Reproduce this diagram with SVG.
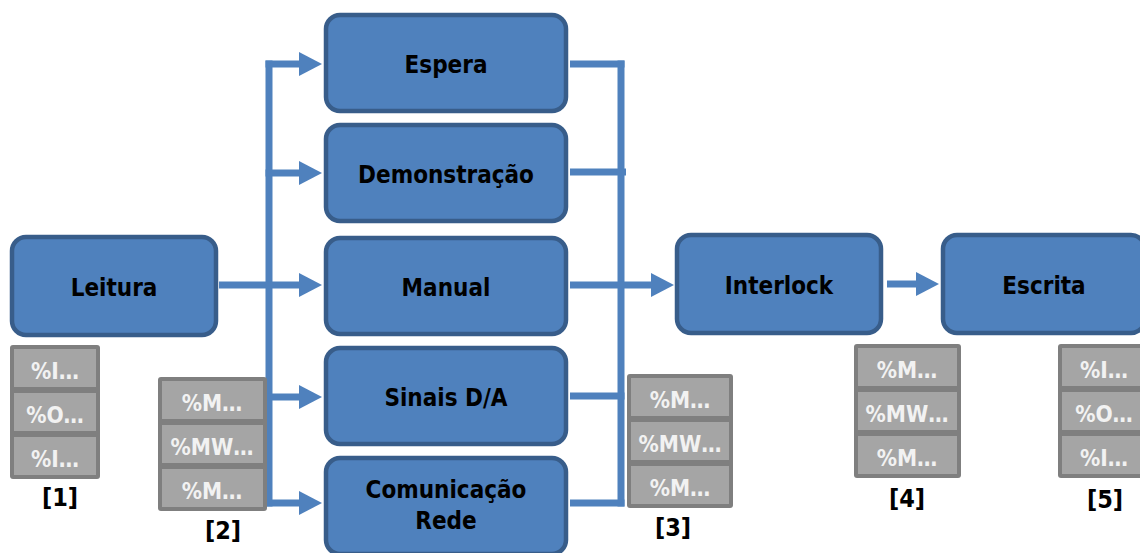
<svg xmlns="http://www.w3.org/2000/svg" width="1140" height="553" viewBox="0 0 1140 553">
  <style>
    .box { fill: #4f81bd; stroke: #385d8a; stroke-width: 4.5; }
    .lbl { font-family: "DejaVu Sans Condensed", "DejaVu Sans", sans-serif; font-stretch: condensed; font-weight: bold; font-size: 24px; fill: #000; text-anchor: middle; }
    .wire { fill: none; stroke: #4f81bd; stroke-width: 7; }
    .stack { fill: #7f7f7f; }
    .cell { fill: #a5a5a5; }
    .ctext { font-family: "DejaVu Sans Condensed", "DejaVu Sans", sans-serif; font-stretch: condensed; font-weight: bold; font-size: 22.5px; fill: #f2f2f2; text-anchor: middle; }
    .tag { font-family: "DejaVu Sans Condensed", "DejaVu Sans", sans-serif; font-stretch: condensed; font-weight: bold; font-size: 25px; fill: #000; text-anchor: middle; }
  </style>
  <defs>
    <marker id="head" markerUnits="userSpaceOnUse" viewBox="0 0 23 24" markerWidth="23" markerHeight="24" refX="1" refY="12" orient="auto">
      <path d="M0,0 L23,12 L0,24 z" fill="#4f81bd"/>
    </marker>
  </defs>

  <!-- connectors -->
  <g id="connectors">
    <!-- left bus -->
    <line class="wire" x1="269" y1="60.5" x2="269" y2="506.5"/>
    <line class="wire" x1="265.5" y1="64" x2="300" y2="64" marker-end="url(#head)"/>
    <line class="wire" x1="265.5" y1="173" x2="300" y2="173" marker-end="url(#head)"/>
    <line class="wire" x1="219" y1="285" x2="300" y2="285" marker-end="url(#head)"/>
    <line class="wire" x1="265.5" y1="397" x2="300" y2="397" marker-end="url(#head)"/>
    <line class="wire" x1="265.5" y1="503" x2="300" y2="503" marker-end="url(#head)"/>
    <!-- right bus -->
    <line class="wire" x1="621" y1="60.5" x2="621" y2="506.5"/>
    <line class="wire" x1="570" y1="64" x2="624.5" y2="64"/>
    <line class="wire" x1="570" y1="172" x2="626" y2="172"/>
    <line class="wire" x1="570" y1="396" x2="624.5" y2="396"/>
    <line class="wire" x1="570" y1="503" x2="624.5" y2="503"/>
    <line class="wire" x1="570" y1="285" x2="652" y2="285" marker-end="url(#head)"/>
    <!-- Interlock to Escrita -->
    <line class="wire" x1="887" y1="284" x2="917" y2="284" marker-end="url(#head)"/>
  </g>

  <!-- process nodes -->
  <g id="leitura">
    <rect class="box" x="12" y="237" width="204" height="98" rx="14"/>
    <text class="lbl" x="114" y="296">Leitura</text>
  </g>
  <g id="espera">
    <rect class="box" x="326" y="15" width="240" height="96" rx="14"/>
    <text class="lbl" x="446" y="73">Espera</text>
  </g>
  <g id="demonstracao">
    <rect class="box" x="326" y="125" width="240" height="96" rx="14"/>
    <text class="lbl" x="446" y="183">Demonstração</text>
  </g>
  <g id="manual">
    <rect class="box" x="326" y="238" width="240" height="96" rx="14"/>
    <text class="lbl" x="446" y="296">Manual</text>
  </g>
  <g id="sinais">
    <rect class="box" x="326" y="348" width="240" height="96" rx="14"/>
    <text class="lbl" x="446" y="406">Sinais D/A</text>
  </g>
  <g id="comunicacao">
    <rect class="box" x="326" y="458" width="240" height="96" rx="14"/>
    <text class="lbl" x="446" y="498">Comunicação</text>
    <text class="lbl" x="446" y="529">Rede</text>
  </g>
  <g id="interlock">
    <rect class="box" x="677" y="235" width="204" height="98" rx="14"/>
    <text class="lbl" x="779" y="294">Interlock</text>
  </g>
  <g id="escrita">
    <rect class="box" x="943" y="235" width="202" height="98" rx="14"/>
    <text class="lbl" x="1044" y="294">Escrita</text>
  </g>

  <!-- memory stacks -->
  <g id="stack1">
    <rect class="stack" x="10" y="345" width="90" height="134" rx="3"/>
    <rect class="cell" x="14" y="349" width="82" height="38"/>
    <rect class="cell" x="14" y="393" width="82" height="38"/>
    <rect class="cell" x="14" y="437" width="82" height="38"/>
    <text class="ctext" x="55" y="379">%I…</text>
    <text class="ctext" x="55" y="423">%O…</text>
    <text class="ctext" x="55" y="467">%I…</text>
    <text class="tag" x="60" y="506">[1]</text>
  </g>
  <g id="stack2">
    <rect class="stack" x="158" y="377" width="109" height="134" rx="3"/>
    <rect class="cell" x="162" y="381" width="101" height="38"/>
    <rect class="cell" x="162" y="425" width="101" height="38"/>
    <rect class="cell" x="162" y="469" width="101" height="38"/>
    <text class="ctext" x="212" y="411">%M…</text>
    <text class="ctext" x="212" y="455">%MW…</text>
    <text class="ctext" x="212" y="499">%M…</text>
    <text class="tag" x="223" y="539">[2]</text>
  </g>
  <g id="stack3">
    <rect class="stack" x="627" y="374" width="106" height="134" rx="3"/>
    <rect class="cell" x="631" y="378" width="98" height="38"/>
    <rect class="cell" x="631" y="422" width="98" height="38"/>
    <rect class="cell" x="631" y="466" width="98" height="38"/>
    <text class="ctext" x="680" y="408">%M…</text>
    <text class="ctext" x="680" y="452">%MW…</text>
    <text class="ctext" x="680" y="496">%M…</text>
    <text class="tag" x="673" y="536">[3]</text>
  </g>
  <g id="stack4">
    <rect class="stack" x="854" y="344" width="107" height="134" rx="3"/>
    <rect class="cell" x="858" y="348" width="99" height="38"/>
    <rect class="cell" x="858" y="392" width="99" height="38"/>
    <rect class="cell" x="858" y="436" width="99" height="38"/>
    <text class="ctext" x="907" y="378">%M…</text>
    <text class="ctext" x="907" y="422">%MW…</text>
    <text class="ctext" x="907" y="466">%M…</text>
    <text class="tag" x="907" y="507">[4]</text>
  </g>
  <g id="stack5">
    <rect class="stack" x="1058" y="344" width="107" height="134" rx="3"/>
    <rect class="cell" x="1062" y="348" width="99" height="38"/>
    <rect class="cell" x="1062" y="392" width="99" height="38"/>
    <rect class="cell" x="1062" y="436" width="99" height="38"/>
    <text class="ctext" x="1104" y="378">%I…</text>
    <text class="ctext" x="1104" y="422">%O…</text>
    <text class="ctext" x="1104" y="466">%I…</text>
    <text class="tag" x="1105" y="508">[5]</text>
  </g>
</svg>
